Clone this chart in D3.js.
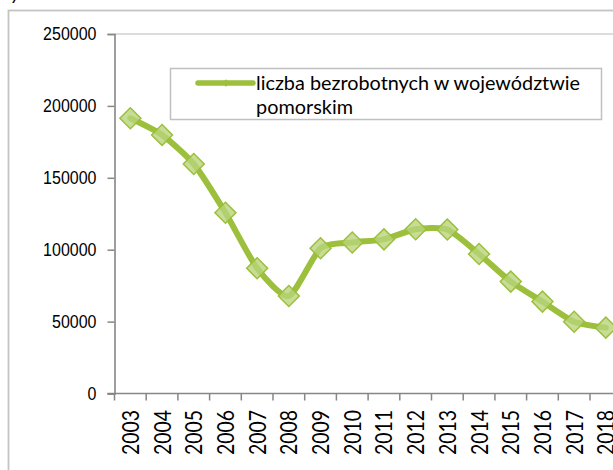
<!DOCTYPE html>
<html>
<head>
<meta charset="utf-8">
<script src="https://cdn.jsdelivr.net/npm/d3@7"></script>
<style>
  body { margin: 0; background: #fff; }
  svg { display: block; font-family: Lato, "Open Sans", sans-serif; }
</style>
</head>
<body>
<div id="chart"></div>
<script>
var years = ["2003","2004","2005","2006","2007","2008","2009","2010",
             "2011","2012","2013","2014","2015","2016","2017","2018"];
var unemployed = [191400, 179800, 159600, 125700, 87100, 67800, 101000, 105000,
                  107200, 114200, 114000, 97000, 77800, 63900, 49900, 45800];
var yTicks = [0, 50000, 100000, 150000, 200000, 250000];
var seriesName = ["liczba bezrobotnych w województwie", "pomorskim"];

function init(){
    var w = 613;
    var h = 470;
    var green = "#9cbf3c";

    var svg = d3.select("#chart")
                .append("svg")
                .attr("width", w)
                .attr("height", h);

    svg.append("rect")
        .attr("width", w)
        .attr("height", h)
        .attr("fill", "#fff");

    // caption fragment cut off at the top
    svg.append("text")
        .attr("x", 11)
        .attr("y", 0)
        .style("font-size", "20px")
        .style("font-style", "italic")
        .attr("fill", "#000")
        .text("y");

    // outer chart border (runs off the picture)
    svg.append("rect")
        .attr("x", 8.5)
        .attr("y", 10.5)
        .attr("width", 640)
        .attr("height", 500)
        .attr("fill", "none")
        .attr("stroke", "#c4c4c4")
        .attr("stroke-width", 1.8);

    var x = d3.scaleBand()
                .domain(years)
                .range([114.5, 114.5 + 16 * 31.7]);

    var y = d3.scaleLinear()
                .domain([0, 250000])
                .range([393.5, 34]);

    // plot area top border
    svg.append("line")
        .attr("x1", x.range()[0])
        .attr("x2", w + 20)
        .attr("y1", y(250000))
        .attr("y2", y(250000))
        .attr("stroke", "#d0d0d0")
        .attr("stroke-width", 1.5);

    // y axis
    var yAxis = svg.append("g")
        .attr("transform", "translate(" + x.range()[0] + ",0)")
        .call(d3.axisLeft(y).tickValues(yTicks).tickSize(7).tickPadding(11)
                .tickFormat(function(d){ return String(d); }));
    yAxis.select(".domain").attr("stroke", "#868686").attr("stroke-width", 1.6);
    yAxis.selectAll(".tick line").attr("stroke", "#868686").attr("stroke-width", 1.5);
    yAxis.selectAll(".tick text")
        .attr("fill", "#000")
        .style("font-size", "17.5px")
        .attr("textLength", function(d){ return String(d).length * 8.9; })
        .attr("lengthAdjust", "spacingAndGlyphs");

    // x axis line and ticks at category borders
    var xEdges = years.map(function(d){ return x(d); }).concat([x.range()[1]]);
    svg.append("line")
        .attr("x1", x.range()[0] - 7)
        .attr("x2", w + 20)
        .attr("y1", y(0))
        .attr("y2", y(0))
        .attr("stroke", "#868686")
        .attr("stroke-width", 1.6);
    svg.selectAll(".xtick")
        .data(xEdges)
        .enter()
        .append("line")
        .attr("class", "xtick")
        .attr("x1", function(d){ return d; })
        .attr("x2", function(d){ return d; })
        .attr("y1", y(0))
        .attr("y2", y(0) + 7)
        .attr("stroke", "#868686")
        .attr("stroke-width", 1.5);

    svg.selectAll(".xlabel")
        .data(years)
        .enter()
        .append("text")
        .attr("class", "xlabel")
        .attr("transform", function(d){
            return "translate(" + (x(d) + x.bandwidth() / 2) + ",410) rotate(-90)";
        })
        .attr("y", 8.5)
        .attr("text-anchor", "end")
        .style("font-size", "23.5px")
        .attr("textLength", 45)
        .attr("lengthAdjust", "spacingAndGlyphs")
        .attr("fill", "#000")
        .text(function(d){ return d; });

    // series line (Excel style smoothing, a bit tighter than catmull-rom)
    var line = d3.line()
                .x(function(d, i){ return x(years[i]) + x.bandwidth() / 2; })
                .y(function(d){ return y(d); })
                .curve(d3.curveCardinal.tension(0.35));

    svg.append("path")
        .datum(unemployed)
        .attr("d", line)
        .attr("fill", "none")
        .attr("stroke", green)
        .attr("stroke-width", 6)
        .attr("stroke-linejoin", "round")
        .attr("stroke-linecap", "round");

    var diamond = d3.symbol().type(d3.symbolSquare).size(220);

    svg.selectAll(".marker")
        .data(unemployed)
        .enter()
        .append("path")
        .attr("class", "marker")
        .attr("d", diamond)
        .attr("transform", function(d, i){
            return "translate(" + (x(years[i]) + x.bandwidth() / 2) + "," + y(d) + ") rotate(45)";
        })
        .attr("fill", "#b9d47c")
        .attr("fill-opacity", 0.8)
        .attr("stroke", green)
        .attr("stroke-width", 1.5);

    // legend
    var legend = svg.append("g");
    legend.append("rect")
        .attr("x", 170.5)
        .attr("y", 68.5)
        .attr("width", 431)
        .attr("height", 51)
        .attr("fill", "#fff")
        .attr("stroke", "#c0c0c0")
        .attr("stroke-width", 1.5);
    legend.append("line")
        .attr("x1", 198)
        .attr("x2", 253)
        .attr("y1", 83)
        .attr("y2", 83)
        .attr("stroke", green)
        .attr("stroke-width", 5.5)
        .attr("stroke-linecap", "round");
    legend.append("path")
        .attr("d", d3.symbol().type(d3.symbolSquare).size(30))
        .attr("transform", "translate(226,83) rotate(45)")
        .attr("fill", green);
    legend.append("text")
        .attr("x", 256)
        .attr("y", 89.5)
        .style("font-size", "20px")
        .attr("textLength", 324)
        .attr("lengthAdjust", "spacingAndGlyphs")
        .attr("fill", "#000")
        .text(seriesName[0]);
    legend.append("text")
        .attr("x", 256)
        .attr("y", 113.5)
        .style("font-size", "20px")
        .attr("textLength", 97)
        .attr("lengthAdjust", "spacingAndGlyphs")
        .attr("fill", "#000")
        .text(seriesName[1]);
}
window.onload = init;
</script>
</body>
</html>
